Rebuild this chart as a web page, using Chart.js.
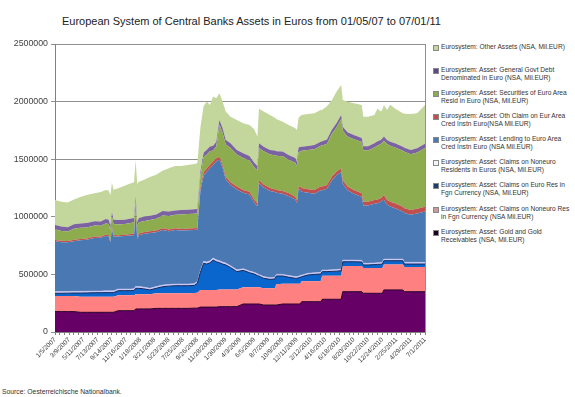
<!DOCTYPE html>
<html>
<head>
<meta charset="utf-8">
<script src="https://cdn.jsdelivr.net/npm/chart.js@4.4.1/dist/chart.umd.min.js"></script>
<style>
  body { margin: 0; width: 575px; height: 397px; position: relative; background: #fff; overflow: hidden; font-family: 'Liberation Sans', Arial, sans-serif; color: #333; }
  #title { position: absolute; left: 62px; top: 15px; text-align: left; font: 11px 'Liberation Sans', Arial, sans-serif; color: #222; white-space: nowrap; }
  #wrap { position: absolute; left: 0; top: 0; width: 432px; height: 385px; }
  #legend { position: absolute; left: 0; top: 0; }
  .item { position: absolute; left: 433px; font: 6.6px 'Liberation Sans Narrow', 'Liberation Sans', sans-serif; line-height: 8px; color: #333; white-space: pre; }
  .box { position: absolute; left: 0; top: 1.5px; width: 4px; height: 4px; }
  .txt { position: absolute; left: 8px; top: 0; }
  #source { position: absolute; left: 2px; top: 388px; font: 6.8px 'Liberation Sans', sans-serif; color: #333; }
</style>
</head>
<body>
<div id="title">European System of Central Banks Assets in Euros from 01/05/07 to 07/01/11</div>
<div id="wrap"><canvas id="assetsChart"></canvas></div>
<div id="legend"></div>
<div id="source">Source: Oesterreichische Nationalbank.</div>
<script>
// weeks after 1/5/2007 (weekly statements), values in billions EUR (thousand Mil.EUR)
const weeks = [0, 4, 8, 12, 16, 20, 25, 29, 32, 34, 35, 36, 37, 40, 44, 48, 50, 51, 52, 53, 56, 60, 64, 68, 72, 76, 80, 84, 88, 90, 92, 94, 96, 98, 100, 102, 104, 106, 108, 111, 115, 119, 123, 126, 128, 129, 132, 136, 139, 140, 144, 148, 152, 153, 154, 155, 156, 160, 164, 168, 169, 172, 175, 178, 181, 182, 185, 189, 194, 195, 198, 202, 204, 206, 207, 208, 210, 212, 215, 220, 221, 225, 229, 234];

const tickLabels = ['1/5/2007', '3/9/2007', '5/11/2007', '7/13/2007', '9/14/2007', '11/16/2007', '1/18/2008', '3/21/2008', '5/23/2008', '7/25/2008', '9/26/2008', '11/28/2008', '1/30/2009', '4/3/2009', '6/5/2009', '8/7/2009', '10/9/2009', '12/11/2009', '2/12/2010', '4/16/2010', '6/18/2010', '8/20/2010', '10/22/2010', '12/24/2010', '2/25/2011', '4/29/2011', '7/1/2011'];

const gold = [177, 177, 177, 177, 171, 171, 171, 171, 171, 171, 171, 171, 171, 185, 185, 185, 185, 200, 200, 200, 200, 200, 205, 205, 205, 205, 205, 205, 207, 207, 216, 216, 216, 216, 216, 216, 220, 220, 220, 220, 220, 243, 243, 243, 243, 243, 234, 234, 234, 234, 243, 243, 243, 243, 243, 243, 263, 263, 263, 263, 284, 284, 284, 284, 284, 350, 350, 350, 350, 336, 336, 336, 336, 336, 336, 365, 365, 365, 365, 365, 350, 350, 350, 350];
const claimsNonEuroFgn = [135, 135, 135, 135, 136, 136, 136, 136, 136, 136, 136, 136, 136, 133, 133, 133, 133, 127, 127, 127, 127, 127, 131, 131, 131, 131, 131, 131, 131, 133, 149, 149, 149, 149, 149, 149, 148, 148, 148, 148, 148, 145, 145, 145, 145, 145, 146, 146, 146, 180, 175, 175, 175, 175, 175, 175, 177, 177, 177, 177, 204, 204, 204, 204, 204, 223, 223, 223, 223, 219, 219, 219, 219, 219, 219, 221, 221, 221, 221, 221, 214, 214, 214, 214];
const claimsEuroResFgn = [24, 24, 25, 26, 31, 32, 34, 34, 35, 35, 35, 35, 35, 41, 41, 41, 42, 52, 52, 52, 48, 38, 43, 57, 62, 66, 66, 66, 66, 83, 155, 231, 225, 235, 260, 245, 234, 222, 214, 192, 156, 147, 127, 115, 102, 97, 86, 77, 80, 72, 68, 57, 48, 48, 52, 57, 40, 55, 60, 63, 36, 36, 38, 40, 44, 37, 37, 37, 35, 27, 27, 30, 32, 33, 35, 33, 33, 33, 33, 33, 26, 26, 26, 26];
const claimsNonEuroEur = [15, 15, 15, 15, 15, 15, 15, 15, 15, 15, 15, 15, 15, 15, 15, 15, 15, 15, 15, 15, 15, 15, 15, 15, 15, 15, 15, 15, 15, 15, 16, 18, 18, 18, 18, 18, 17, 17, 17, 16, 16, 15, 15, 15, 15, 15, 15, 15, 15, 15, 15, 15, 15, 15, 15, 15, 15, 15, 15, 15, 15, 15, 15, 15, 15, 15, 15, 15, 15, 15, 15, 15, 15, 15, 15, 15, 15, 15, 15, 15, 15, 15, 15, 15];
const lending = [436, 429, 426, 435, 443, 446, 460, 462, 476, 473, 421, 540, 473, 454, 459, 464, 468, 637, 411, 446, 460, 480, 471, 477, 462, 468, 463, 466, 466, 452, 694, 742, 784, 803, 807, 851, 878, 818, 724, 699, 697, 658, 663, 607, 587, 794, 774, 753, 740, 707, 699, 689, 669, 640, 751, 746, 723, 698, 686, 712, 691, 705, 775, 817, 842, 662, 605, 576, 549, 502, 502, 514, 516, 525, 538, 513, 470, 455, 441, 412, 428, 412, 423, 441];
const othClaim = [12, 12, 12, 12, 12, 12, 12, 12, 12, 12, 12, 12, 12, 12, 12, 12, 12, 12, 15, 15, 15, 15, 15, 15, 15, 15, 15, 15, 15, 15, 30, 30, 30, 30, 30, 30, 25, 25, 25, 25, 25, 25, 25, 25, 25, 25, 25, 25, 25, 25, 25, 25, 25, 25, 25, 25, 32, 32, 32, 32, 32, 32, 32, 32, 32, 32, 32, 32, 32, 32, 32, 32, 32, 32, 32, 42, 42, 42, 42, 42, 42, 42, 42, 42];
const securities = [92, 85, 82, 97, 96, 96, 96, 92, 97, 95, 95, 95, 95, 94, 92, 97, 97, 97, 97, 97, 97, 97, 102, 112, 117, 117, 126, 126, 127, 125, 100, 130, 119, 119, 96, 102, 278, 278, 279, 298, 278, 278, 270, 280, 285, 279, 289, 290, 295, 297, 301, 290, 295, 295, 300, 305, 323, 339, 354, 354, 357, 359, 370, 383, 427, 427, 435, 440, 445, 445, 445, 456, 469, 471, 469, 471, 485, 485, 485, 485, 489, 485, 488, 510];
const govtDebt = [38, 38, 38, 38, 38, 38, 38, 38, 38, 38, 38, 38, 38, 38, 38, 38, 38, 38, 38, 38, 38, 38, 38, 38, 38, 38, 38, 38, 38, 38, 40, 40, 40, 40, 40, 40, 40, 40, 40, 40, 40, 40, 40, 40, 40, 40, 40, 40, 40, 40, 40, 40, 40, 40, 40, 40, 36, 36, 36, 36, 36, 36, 36, 36, 36, 36, 36, 36, 36, 36, 36, 36, 36, 36, 36, 36, 36, 36, 36, 36, 36, 36, 36, 36];
const otherAssets = [217, 216, 214, 215, 230, 244, 242, 255, 253, 253, 262, 255, 260, 275, 295, 306, 310, 315, 330, 315, 320, 335, 345, 350, 376, 385, 381, 388, 393, 397, 380, 405, 419, 361, 428, 378, 232, 231, 246, 231, 260, 260, 269, 290, 255, 300, 304, 304, 285, 280, 260, 260, 258, 270, 255, 268, 275, 277, 275, 275, 275, 289, 256, 275, 260, 232, 266, 276, 285, 257, 257, 246, 286, 246, 250, 274, 260, 320, 303, 289, 295, 312, 304, 336];

const series = [
  { label: 'Eurosystem: Asset: Gold and Gold\nReceivables (NSA, Mil.EUR)', data: gold, fill: '#660066', line: '#2a002a', width: 1, box: '#1a001a' },
  { label: 'Eurosystem: Asset: Claims on Noneuro Res\nin Fgn Currency (NSA Mil.EUR)', data: claimsNonEuroFgn, fill: '#FF8080', line: '#FF8080', width: 0, box: '#c89a9a' },
  { label: 'Eurosystem: Asset: Claims on Euro Res in\nFgn Currency (NSA, Mil.EUR)', data: claimsEuroResFgn, fill: '#0A66CC', line: '#14285a', width: 1, box: '#1c3d6e' },
  { label: 'Eurosystem: Asset: Claims on Noneuro\nResidents in Euros (NSA, Mil.EUR)', data: claimsNonEuroEur, fill: '#CCCCFF', line: '#b8b8e0', width: 0.5, box: '#f4f4ff' },
  { label: 'Eurosystem: Asset: Lending to Euro Area\nCred Instn Euro (NSA Mil.EUR)', data: lending, fill: '#4A78B2', line: '#4A78B2', width: 0, box: '#4A78B2' },
  { label: 'Eurosystem: Asset: Oth Claim on Eur Area\nCred Instn Euro(NSA Mil.EUR)', data: othClaim, fill: '#C0504D', line: '#C0504D', width: 0, box: '#C0504D' },
  { label: 'Eurosystem: Asset: Securities of Euro Area\nResid in Euro (NSA, Mil.EUR)', data: securities, fill: '#8DAC4E', line: '#8DAC4E', width: 0, box: '#8DAC4E' },
  { label: 'Eurosystem: Asset: General Govt Debt\nDenominated in Euro (NSA, Mil.EUR)', data: govtDebt, fill: '#7B62A0', line: '#7B62A0', width: 0, box: '#5c4a80' },
  { label: 'Eurosystem: Other Assets (NSA, Mil.EUR)', data: otherAssets, fill: '#C3D69B', line: '#C3D69B', width: 0, box: '#C3D69B' }
];

const ctx = document.getElementById('assetsChart').getContext('2d');

const chart = new Chart(ctx, {
  type: 'line',
  data: {
    datasets: series.map((s, i) => ({
      label: s.label,
      data: s.data.map((v, j) => ({ x: weeks[j], y: v * 1000 })),
      backgroundColor: s.fill,
      borderColor: s.line,
      borderWidth: s.width,
      fill: i === 0 ? 'origin' : '-1',
      pointRadius: 0,
      tension: 0
    }))
  },
  options: {
    responsive: true,
    maintainAspectRatio: false,
    animation: false,
    devicePixelRatio: 1,
    layout: { padding: { top: 44, right: 7, left: 0, bottom: 0 } },
    plugins: { legend: { display: false }, tooltip: { enabled: false } },
    scales: {
      x: {
        type: 'linear',
        min: 0,
        max: 234,
        afterFit: (scale) => { scale.height = 53; },
        // a tick mark every 3 weeks, a label every 9 weeks
        afterBuildTicks: (scale) => {
          const ticks = [];
          for (let w = 0; w <= 234; w += 3) ticks.push({ value: w });
          scale.ticks = ticks;
        },
        ticks: {
          autoSkip: false,
          minRotation: 45,
          maxRotation: 45,
          padding: 1,
          color: '#404040',
          font: { family: 'Liberation Sans', size: 6.5 },
          callback: (value) => (value % 9 === 0 ? tickLabels[value / 9] : '')
        },
        grid: { drawOnChartArea: false, tickLength: 3, color: '#808080' },
        border: { color: '#808080' }
      },
      y: {
        stacked: true,
        min: 0,
        max: 2500000,
        afterFit: (scale) => { scale.width = 55; },
        ticks: {
          stepSize: 500000,
          padding: 3,
          color: '#404040',
          font: { family: 'Liberation Sans', size: 8.8 },
          callback: (value) => String(value)
        },
        grid: { color: '#909090', tickLength: 4 },
        border: { color: '#808080' }
      },
      yRight: {
        position: 'right',
        min: 0,
        max: 2500000,
        afterFit: (scale) => { scale.width = 0; },
        ticks: { display: false },
        grid: { drawOnChartArea: false, drawTicks: false },
        border: { color: '#909090' }
      }
    }
  }
});

const legendTop = [43, 66, 89, 112, 135, 158, 181, 205, 228];
const legend = document.getElementById('legend');
series.slice().reverse().forEach((s, i) => {
  const item = document.createElement('div');
  item.className = 'item';
  item.style.top = legendTop[i] + 'px';
  const box = document.createElement('div');
  box.className = 'box';
  box.style.background = s.box;
  box.style.border = '0.5px solid #888';
  const txt = document.createElement('div');
  txt.className = 'txt';
  txt.textContent = s.label;
  item.appendChild(box);
  item.appendChild(txt);
  legend.appendChild(item);
});
</script>
</body>
</html>
